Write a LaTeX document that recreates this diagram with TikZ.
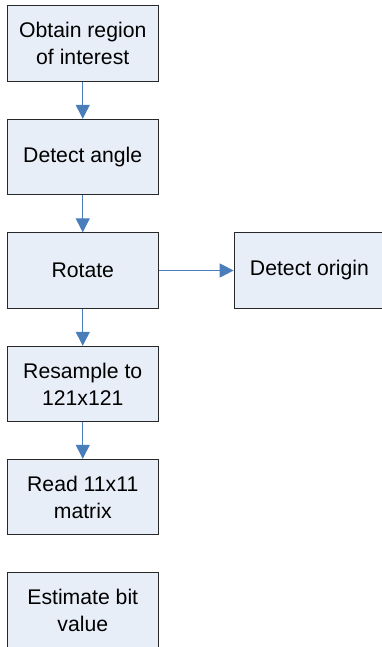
\documentclass[tikz,border=0pt]{standalone}
\usepackage{fontspec}
\setmainfont{Liberation Sans}
\usetikzlibrary{arrows.meta}
\definecolor{boxfill}{RGB}{232,238,248}
\definecolor{boxline}{RGB}{40,40,40}
\definecolor{arrowblue}{RGB}{74,126,187}
\tikzset{
  stepbox/.style={draw=boxline, line width=0.8pt, fill=boxfill, minimum width=113pt, minimum height=56.5pt,
    inner sep=0pt, align=center, font=\fontsize{15.9pt}{20.3pt}\selectfont, text=black},
  flow/.style={draw=arrowblue, line width=0.9pt, -{Triangle[length=10.5pt,width=10.5pt]}}
}
\begin{document}
\begin{tikzpicture}[x=0.75pt,y=-0.75pt]
\useasboundingbox (0,0) rectangle (382,647);
\clip (0,0) rectangle (382,647);
\node[stepbox] (roi) at (82.75,43.5) {Obtain region\\of interest};
\node[stepbox] (angle) at (82.75,157) {Detect angle};
\node[stepbox] (rot) at (82.75,270.5) {Rotate};
\node[stepbox] (orig) at (309.5,270.5) {Detect origin};
\node[stepbox] (res) at (82.75,384) {Resample to\\121x121};
\node[stepbox] (read) at (82.75,497) {Read 11x11\\matrix};
\node[stepbox] (est) at (82.75,610.5) {Estimate bit\\value};
\draw[flow] (roi) -- (angle);
\draw[flow] (angle) -- (rot);
\draw[flow] (rot) -- (orig);
\draw[flow] (rot) -- (res);
\draw[flow] (res) -- (read);
\end{tikzpicture}
\end{document}
